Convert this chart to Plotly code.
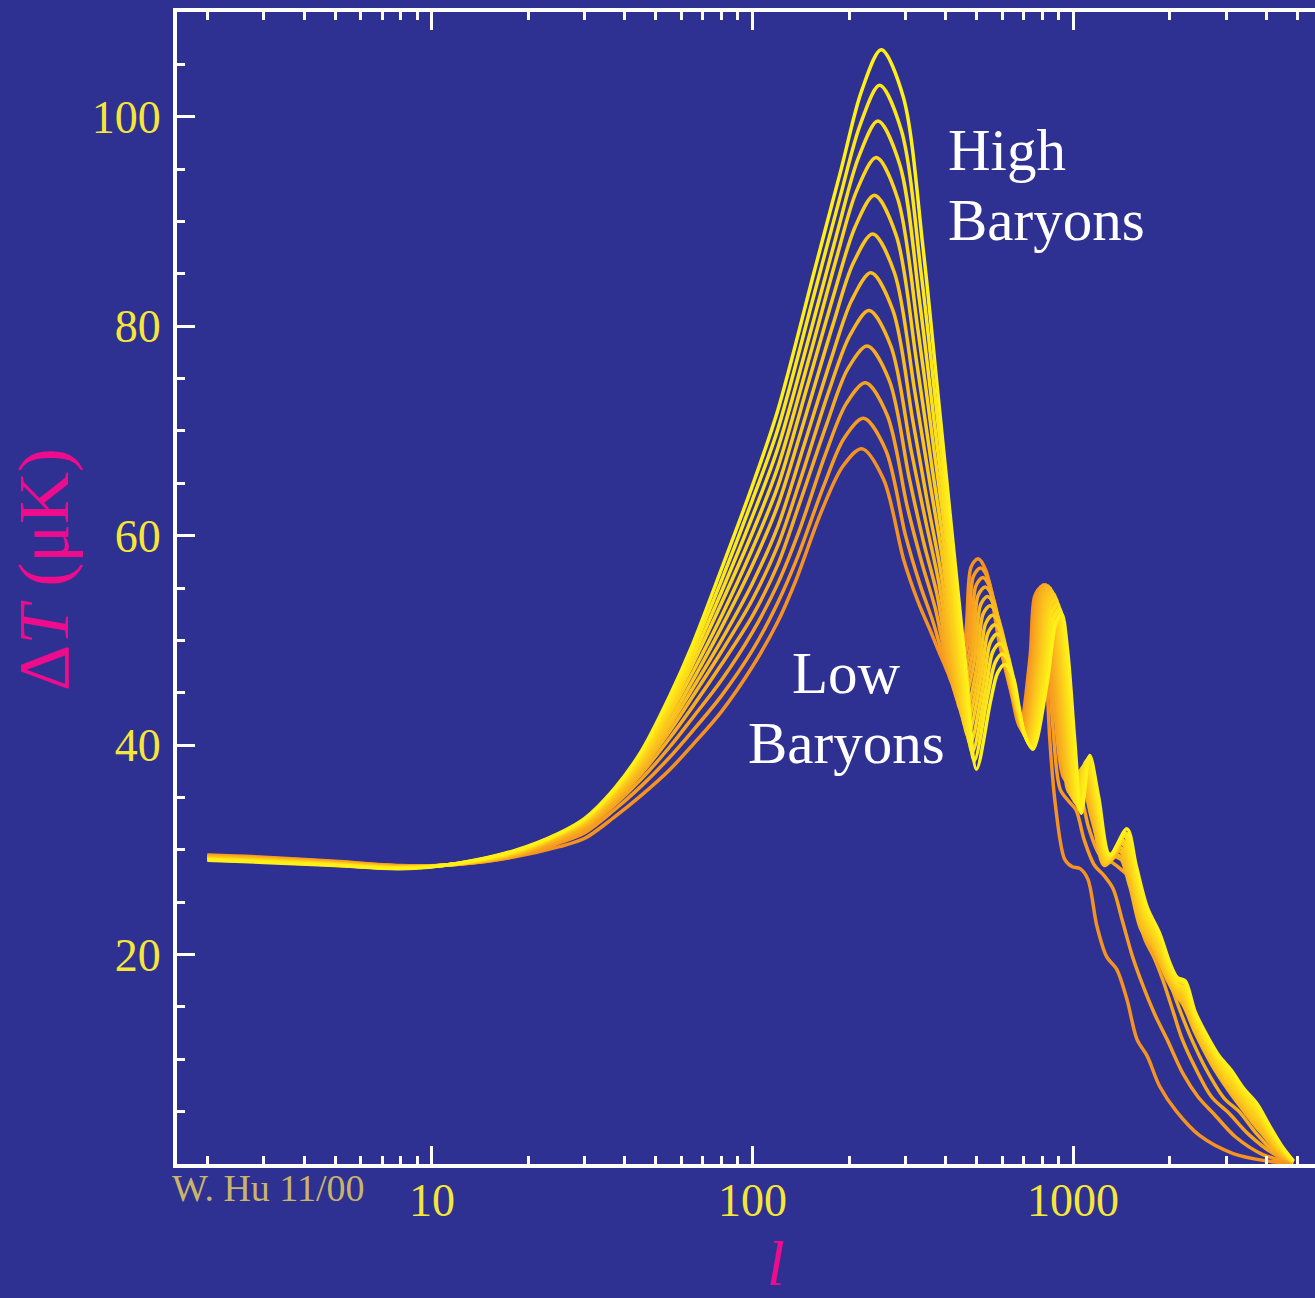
import math
import plotly.graph_objects as go

# ---------------- data ----------------
# multipole l and temperature anisotropy Delta T (micro K) for 12 baryon densities,
# from lowest (orange) to highest (yellow)
ell_1 = [2,3,5,8,12,18,25,30,37,45,55,65,80,100,120, 136,164,191,219, 256,296,329,361, 389,418, 459,480,505,535,586,640,681, 733,758,790,
         815,845,880,940,990,1050,1110,1185,1270,1365,1470,1580,1700,1860,2100,2480,3150,4000,4850]
dT_1 = [29.5,29.3,28.9,28.5,28.6,29.3,30.3,31.1,33.1,35.2,37.6,40.0,43.2,47.5,51.8, 55.6,62.3,66.6,68.3, 65.4,57.7,53.6,50.7, 48.3,46.5, 50.0,57.0,57.8,56.6,50.0,45.0,41.8, 48.4,54.2,55.0,
        50.5,40.5,34.2,29.1,28.4,28.2,27.2,22.7,19.8,18.6,15.7,11.9,10.3,7.4,5.0,2.7,1.0,0.3,0.05]

ell_2 = [2,3,5,8,12,18,25,30,37,45,55,65,80,100,120, 138,167,193,222, 260,300,333,366, 395,425, 467,488,514,545,594,646,687, 741,768,800,
         830,865,910,970,1020,1080,1160,1250,1330,1420,1530,1650,1800,1960,2200,2450,2740,3200,3900,4850]
dT_2 = [29.45,29.25,28.86,28.47,28.61,29.35,30.66,31.63,33.78,36.08,38.79,41.34,44.7,49.06,53.62, 57.9,64.8,69.3,71.2, 68.2,60.0,55.3,51.7, 48.2,45.7, 49.5,56.1,56.9,55.7,49.4,44.7,41.6, 48.4,54.4,55.2,
        50.0,41.5,35.8,34.6,33.8,31.0,28.6,27.5,26.3,23.3,19.8,17.0,14.2,11.9,8.6,6.4,4.8,2.6,0.9,0.1]

ell_3 = [2,3,5,8,12,18,25,30,37,45,55,65,80,100,120, 140,169,196,225, 263,304,338,371, 403,433, 476,497,523,554,602,651,693, 749,778,810,
         842,880,930,990,1050,1120,1210,1320,1400,1480,1580,1680,1780,1900,2050,2180,2400,2700,3070,3500,4200,4850]
dT_3 = [29.41,29.21,28.83,28.45,28.62,29.41,30.9,31.97,34.23,36.75,39.77,42.59,46.19,50.79,55.44, 60.5,67.8,72.6,74.6, 71.5,62.7,57.3,53.1, 48.0,44.9, 49.1,55.2,56.0,54.8,48.8,44.3,41.4, 48.35,54.5,55.3,
        50.3,42.5,37.0,36.0,35.2,32.0,29.5,28.8,28.2,27.5,24.0,21.3,19.8,17.6,14.5,12.0,9.2,6.4,4.8,2.9,1.0,0.15]

ell_4 = [2,3,5,8,12,18,25,30,37,45,55,65,80,100,120, 141,171,198,228, 267,308,342,376, 409,440, 484,505,532,564,610,657,699, 758,789,822,
         855,895,945,1010,1070,1140,1230,1350,1450,1520,1620,1730,1900,2020,2180,2340,2600,2950,3290,3700,4300,4850]
dT_4 = [29.36,29.16,28.79,28.42,28.63,29.46,31.05,32.2,34.56,37.26,40.61,43.65,47.69,52.34,57.25, 63.3,70.8,75.9,78.1, 74.8,65.5,59.3,54.4, 47.9,44.1, 48.6,54.3,55.1,53.9,48.3,44.0,41.2, 48.25,54.5,55.3,
        50.6,43.0,37.5,36.8,36.2,33.0,30.0,29.4,28.8,27.8,24.5,21.8,19.8,17.0,14.2,11.9,9.0,6.3,5.0,3.0,1.0,0.2]

ell_5 = [2,3,5,8,12,18,25,30,37,45,55,65,80,100,120, 143,173,201,231, 270,312,347,381, 416,447, 492,514,541,573,618,663,705, 767,801,834,
         870,920,970,1050,1150,1250,1380,1500,1620,1780,1960,2080,2200,2400,2700,3050,3450,3700,3900,4150,4400,4850]
dT_5 = [29.32,29.12,28.75,28.39,28.64,29.52,31.17,32.37,34.8,37.64,41.24,44.61,48.91,53.9,59.07, 65.9,73.8,79.1,81.5, 78.1,68.2,61.3,55.5, 47.8,43.3, 48.1,53.4,54.2,53.0,47.7,43.6,41.0, 48.1,54.4,55.2,
        50.0,41.0,35.5,37.5,33.0,28.5,29.5,26.5,22.5,20.5,17.6,16.2,15.2,12.5,9.5,7.0,4.8,3.6,2.8,1.8,1.0,0.15]

ell_6 = [2,3,5,8,12,18,25,30,37,45,55,65,80,100,120, 145,176,204,234, 274,316,351,386, 423,455, 501,523,551,584,626,668,711, 776,812,846,
         883,933,983,1061,1157,1257,1393,1510,1631,1791,1966,2084,2204,2400,2691,3021,3400,3657,3876,4143,4407,4850]
dT_6 = [29.27,29.07,28.72,28.36,28.65,29.57,31.26,32.51,34.99,37.93,41.8,45.38,50.0,55.46,60.89, 68.7,76.9,82.5,85.1, 81.5,71.0,63.2,56.6, 47.7,42.5, 47.6,52.5,53.3,52.1,47.2,43.3,40.8, 47.9,54.2,55.0,
        49.9,40.9,35.2,37.7,33.3,28.6,29.9,26.8,22.8,20.7,17.8,16.4,15.5,12.8,9.9,7.5,5.4,4.1,3.2,2.1,1.1,0.17]

ell_7 = [2,3,5,8,12,18,25,30,37,45,55,65,80,100,120, 147,178,206,237, 277,320,356,391, 430,462, 509,533,561,595,634,674,717, 784,824,858,
         896,946,996,1071,1164,1264,1406,1520,1643,1803,1971,2089,2209,2400,2683,2993,3350,3614,3851,4136,4414,4850]
dT_7 = [29.23,29.03,28.68,28.34,28.65,29.63,31.34,32.62,35.18,38.22,42.29,46.14,51.22,57.19,62.91, 71.6,80.1,86.0,88.8, 85.1,73.9,65.3,57.8, 47.5,41.7, 47.1,51.6,52.4,51.2,46.6,43.0,40.6, 47.65,53.9,54.7,
        49.7,40.9,34.9,37.9,33.6,28.8,30.2,27.1,23.1,20.9,18.1,16.7,15.9,13.1,10.2,7.9,6.0,4.6,3.7,2.3,1.2,0.19]

ell_8 = [2,3,5,8,12,18,25,30,37,45,55,65,80,100,120, 149,180,209,240, 281,324,360,396, 436,469, 517,542,570,604,642,680,723, 793,835,870,
         909,959,1009,1082,1171,1271,1419,1530,1654,1814,1977,2093,2213,2400,2674,2964,3300,3571,3827,4129,4421,4850]
dT_8 = [29.18,28.98,28.65,28.31,28.66,29.68,31.41,32.72,35.34,38.52,42.85,46.91,52.31,58.75,64.73, 74.5,83.2,89.5,92.5, 88.6,76.8,67.2,58.7, 47.4,40.9, 46.6,50.7,51.5,50.3,46.1,42.6,40.4, 47.4,53.6,54.4,
        49.6,40.8,34.6,38.1,33.9,28.9,30.6,27.4,23.4,21.1,18.3,16.9,16.2,13.4,10.6,8.4,6.6,5.1,4.1,2.6,1.3,0.21]

ell_9 = [2,3,5,8,12,18,25,30,37,45,55,65,80,100,120, 151,182,211,243, 284,328,365,401, 444,477, 526,551,580,615,650,685,729, 802,847,882,
         921,971,1021,1093,1179,1279,1431,1540,1666,1826,1983,2097,2217,2400,2666,2936,3250,3529,3803,4121,4429,4850]
dT_9 = [29.14,28.94,28.61,28.28,28.67,29.74,31.47,32.81,35.48,38.77,43.34,47.68,53.54,60.3,66.55, 77.2,86.3,92.9,96.1, 92.1,79.6,69.0,59.6, 47.3,40.1, 46.1,49.8,50.6,49.4,45.5,42.3,40.2, 47.1,53.2,54.0,
        49.4,40.7,34.4,38.4,34.1,29.1,30.9,27.6,23.6,21.4,18.5,17.1,16.5,13.6,10.9,8.9,7.2,5.7,4.5,2.8,1.5,0.24]

ell_10 = [2,3,5,8,12,18,25,30,37,45,55,65,80,100,120, 153,185,214,246, 288,332,369,406, 450,484, 535,561,591,626,659,691,735, 811,858,894,
          934,984,1034,1104,1186,1286,1444,1550,1677,1837,1989,2101,2221,2400,2657,2907,3200,3486,3779,4114,4436,4850]
dT_10 = [29.09,28.89,28.57,28.25,28.68,29.79,31.52,32.89,35.61,39.02,43.83,48.35,54.62,61.86,68.36, 79.9,89.3,96.1,99.6, 95.4,82.3,70.7,60.2, 47.2,39.3, 45.6,48.9,49.7,48.5,44.9,41.9,40.0, 46.75,52.7,53.5,
         49.3,40.6,34.1,38.6,34.4,29.2,31.3,27.9,23.9,21.6,18.7,17.3,16.8,13.9,11.3,9.4,7.8,6.2,4.9,3.1,1.6,0.26]

ell_11 = [2,3,5,8,12,18,25,30,37,45,55,65,80,100,120, 154,187,217,249, 291,336,374,411, 457,491, 543,571,601,637,668,697,742, 820,871,907,
          947,997,1047,1114,1193,1293,1457,1560,1689,1849,1994,2106,2226,2400,2649,2879,3150,3443,3754,4107,4443,4850]
dT_11 = [29.05,28.85,28.54,28.23,28.69,29.85,31.56,32.94,35.72,39.23,44.25,49.02,55.71,63.42,70.18, 82.5,92.2,99.3,103.0, 98.7,84.9,72.2,60.7, 47.0,38.5, 45.0,47.9,48.7,47.5,44.3,41.6,39.8, 46.4,52.2,53.0,
         49.1,40.6,33.8,38.8,34.7,29.4,31.6,28.2,24.2,21.8,19.0,17.6,17.2,14.2,11.6,9.8,8.4,6.7,5.4,3.3,1.7,0.28]

ell_12 = [2,3,5,8,12,18,25,30,37,45,55,65,80,100,120, 156,189,219,252, 295,340,378,416, 464,499, 553,581,612,649,677,703,748, 830,883,920,
          960,1010,1060,1125,1200,1300,1470,1570,1700,1860,2000,2110,2230,2400,2640,2850,3100,3400,3730,4100,4450,4850]
dT_12 = [29.0,28.8,28.5,28.2,28.7,29.9,31.6,33.0,35.8,39.4,44.6,49.6,56.8,64.8,72.0, 85.3,95.0,102.5,106.4, 101.9,87.5,73.7,61.1, 46.9,37.7, 44.3,46.9,47.7,46.5,43.7,41.2,39.6, 46.05,51.7,52.5,
         49.0,40.5,33.5,39.0,35.0,29.5,32.0,28.5,24.5,22.0,19.2,17.8,17.5,14.5,12.0,10.3,9.0,7.2,5.8,3.6,1.8,0.3]

x_tick_vals = [10, 100, 1000]
x_tick_text = ["10", "100", "1000"]
x_minor_vals = [2,3,4,5,6,7,8,9,20,30,40,50,60,70,80,90,200,300,400,500,600,700,800,900,2000,3000,4000,5000]
y_tick_vals = [20, 40, 60, 80, 100]
y_tick_text = ["20", "40", "60", "80", "100"]
y_minor_vals = [5,10,15,25,30,35,45,50,55,65,70,75,85,90,95,105]

models = [(ell_1, dT_1), (ell_2, dT_2), (ell_3, dT_3), (ell_4, dT_4), (ell_5, dT_5), (ell_6, dT_6),
          (ell_7, dT_7), (ell_8, dT_8), (ell_9, dT_9), (ell_10, dT_10), (ell_11, dT_11), (ell_12, dT_12)]

# ---------------- styling ----------------
W, H = 1315, 1298
ML, MR, MT, MB = 177, 0, 12, 134
PW, PH = W - ML - MR, H - MT - MB
BG = "#2E3192"
YEL = "#F6E63A"
MAG = "#EC0C8C"
TAN = "#C9B46C"
FONT = "Liberation Serif, Times New Roman, serif"

c_lo = (246, 146, 34)
c_hi = (255, 240, 24)

def mix(f):
    return "rgb(%d,%d,%d)" % tuple(round(a + (b - a) * f) for a, b in zip(c_lo, c_hi))

def px(xp):
    return (xp - ML) / PW

def py(yp):
    return (H - MB - yp) / PH

fig = go.Figure()
n = len(models)
for i, (l, t) in enumerate(models):
    assert len(l) == len(t), (i, len(l), len(t))
    fig.add_trace(go.Scatter(
        x=l, y=t, mode="lines",
        line=dict(color=mix(i / (n - 1)), width=3.5, shape="spline", smoothing=0.9),
        showlegend=False, hoverinfo="skip"))

x_lo = 1 - (431.7 - ML) / 320.8
x_hi = 3 + (W - MR - 1073.3) / 320.8

tickstyle = dict(ticks="inside", tickcolor="white", tickwidth=3)
fig.update_layout(
    width=W, height=H,
    margin=dict(l=ML, r=MR, t=MT, b=MB, pad=0),
    paper_bgcolor=BG, plot_bgcolor=BG,
    showlegend=False,
    xaxis=dict(
        type="log", range=[x_lo, x_hi],
        showline=True, linecolor="white", linewidth=4, mirror="ticks",
        ticklen=18, tickvals=x_tick_vals, showticklabels=False,
        showgrid=False, zeroline=False,
        minor=dict(ticklen=8, tickmode="array", tickvals=x_minor_vals, showgrid=False, **tickstyle),
        **tickstyle),
    yaxis=dict(
        range=[0, 110],
        showline=True, linecolor="white", linewidth=4, mirror=False,
        ticklen=18, tickvals=y_tick_vals, ticktext=y_tick_text,
        tickfont=dict(family=FONT, size=46, color=YEL),
        ticklabelstandoff=3,
        showgrid=False, zeroline=False,
        minor=dict(ticklen=8, tickmode="array", tickvals=y_minor_vals, showgrid=False, **tickstyle),
        **tickstyle),
    yaxis2=dict(
        overlaying="y", side="right", range=[0, 110],
        showline=False, ticklen=5, tickvals=y_tick_vals, showticklabels=False,
        showgrid=False, zeroline=False, **tickstyle),
)

# x tick labels, placed at their tick values on the log axis
for v, s in zip(x_tick_vals, x_tick_text):
    fig.add_annotation(text=s, x=math.log10(v), xref="x", y=py(1200), yref="paper",
                       xanchor="center", yanchor="middle", showarrow=False,
                       font=dict(family=FONT, size=46, color=YEL))

def note(text, xp, yp, size, color, xanchor="center", angle=0):
    fig.add_annotation(text=text, x=px(xp), y=py(yp), xref="paper", yref="paper",
                       xanchor=xanchor, yanchor="middle", showarrow=False, textangle=angle,
                       font=dict(family=FONT, size=size, color=color))

note("High", 946, 150, 59, "white", xanchor="left")
note("Baryons", 946, 220, 59, "white", xanchor="left")
note("Low", 846, 673, 59, "white")
note("Baryons", 846, 743, 59, "white")
note("W. Hu 11/00", 170, 1188, 38, TAN, xanchor="left")
note("<i>l</i>", 776, 1263, 64, MAG)
note("Δ<i>T</i> (μK)", 44, 570, 72, MAG, angle=-90)

fig.write_html("out.html")
